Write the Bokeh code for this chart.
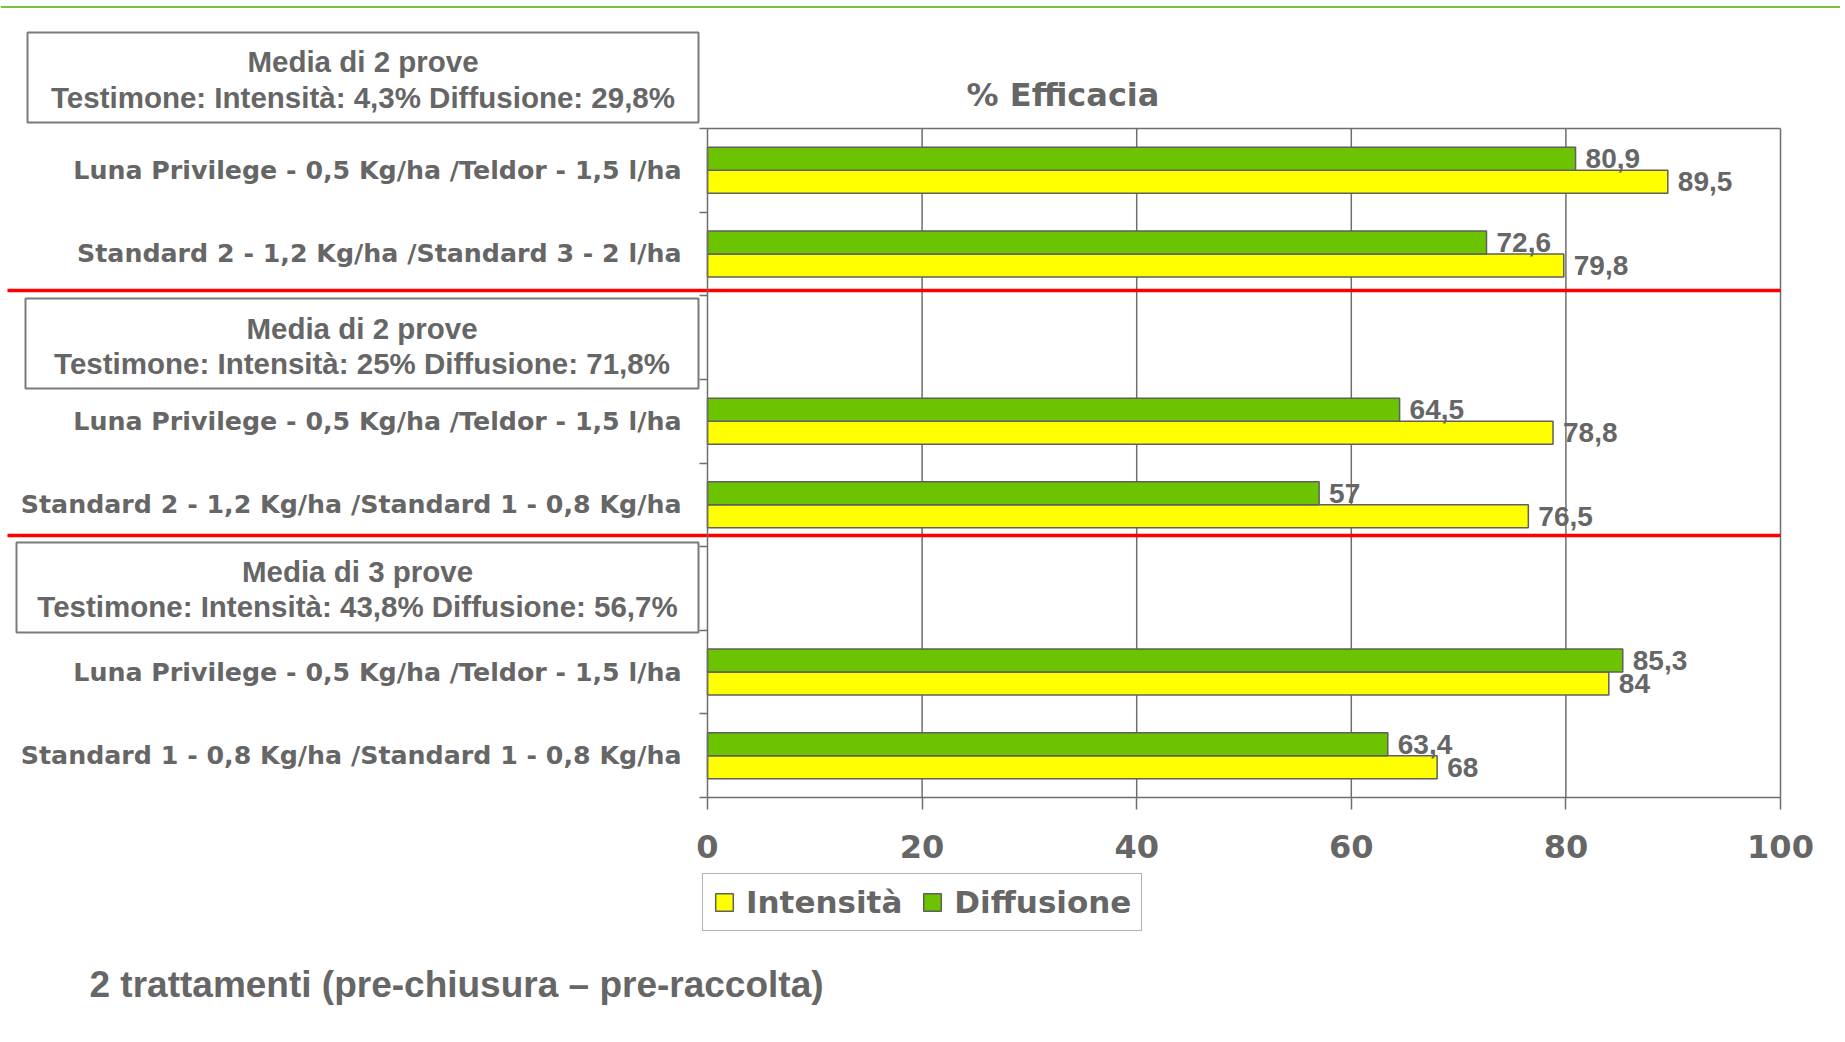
from bokeh.plotting import figure
from bokeh.models import Range1d, LinearAxis, FixedTicker, Legend, LegendItem, ColumnDataSource
from bokeh.core.properties import value
from bokeh.embed import file_html
from bokeh.resources import INLINE

# ---------------- data ----------------
categories = [
    "Luna Privilege - 0,5 Kg/ha /Teldor - 1,5 l/ha",
    "Standard 2 - 1,2 Kg/ha /Standard 3 - 2 l/ha",
    "",
    "Luna Privilege - 0,5 Kg/ha /Teldor - 1,5 l/ha",
    "Standard 2 - 1,2 Kg/ha /Standard 1 - 0,8 Kg/ha",
    "",
    "Luna Privilege - 0,5 Kg/ha /Teldor - 1,5 l/ha",
    "Standard 1 - 0,8 Kg/ha /Standard 1 - 0,8 Kg/ha",
]
intensita = [89.5, 79.8, None, 78.8, 76.5, None, 84, 68]
diffusione = [80.9, 72.6, None, 64.5, 57, None, 85.3, 63.4]
series_names = ["Intensità", "Diffusione"]
x_ticks = [0, 20, 40, 60, 80, 100]
header_titles = ["Media di 2 prove", "Media di 2 prove", "Media di 3 prove"]
header_details = [
    "Testimone: Intensità: 4,3% Diffusione: 29,8%",
    "Testimone: Intensità: 25% Diffusione: 71,8%",
    "Testimone: Intensità: 43,8% Diffusione: 56,7%",
]
chart_title = "% Efficacia"
footnote = "2 trattamenti (pre-chiusura – pre-raccolta)"

# ---------------- layout (pixels of the picture) ----------------
W, H = 1840, 1026
ORIG = 0
X0, X100 = 707, 1780
YT, YB = 128, 797
n = len(categories)
ppu = (X100 - X0) / 100.0
slot = (YB - YT) / float(n)


def dx(px):
    return (px - X0) / ppu


def dy(py):
    return (py - YT) / slot


GRAY = "#666666"
LINE_GRAY = "#6e6e6e"
YELLOW = "#FFFF00"
GREEN = "#6CC300"

p = figure(width=W, height=H,
           x_range=Range1d(dx(ORIG), dx(ORIG + W)),
           y_range=Range1d(dy(ORIG + H), dy(ORIG)),
           x_axis_type=None, y_axis_type=None,
           toolbar_location=None, output_backend="svg",
           min_border=0, outline_line_color=None)
p.background_fill_color = "white"
p.border_fill_color = "white"

# ---------------- grid lines and plot border ----------------
grid_x = [t for t in x_ticks if t > 0]
p.segment(x0=grid_x, y0=[0] * len(grid_x), x1=grid_x, y1=[n] * len(grid_x),
          line_color=LINE_GRAY, line_width=1.5)
p.segment(x0=[0], y0=[0], x1=[x_ticks[-1]], y1=[0], line_color=LINE_GRAY, line_width=1.5)

# ---------------- bars ----------------
BAR_H = 0.275
idx = [i for i, v in enumerate(intensita) if v is not None]
yc = [i + 0.5 for i in idx]


def fmt(v):
    return ("%g" % v).replace(".", ",")


src = ColumnDataSource(dict(
    yi=[c + BAR_H / 2 for c in yc],
    yd=[c - BAR_H / 2 for c in yc],
    vi=[intensita[i] for i in idx],
    vd=[diffusione[i] for i in idx],
    li=[fmt(intensita[i]) for i in idx],
    ld=[fmt(diffusione[i]) for i in idx],
))

ri = p.hbar(y="yi", left=0, right="vi", height=BAR_H, source=src,
            fill_color=YELLOW, line_color="#5f5f5f", line_width=1.5)
rd = p.hbar(y="yd", left=0, right="vd", height=BAR_H, source=src,
            fill_color=GREEN, line_color="#5f5f5f", line_width=1.5)

for col_y, col_v, col_l in (("yd", "vd", "ld"), ("yi", "vi", "li")):
    p.text(x=col_v, y=col_y, text=col_l, source=src, x_offset=10,
           text_align="left", text_baseline="middle",
           text_font=value("Liberation Sans"), text_font_style="bold",
           text_font_size="28px", text_color=GRAY)

# ---------------- axes ----------------
xaxis = LinearAxis(ticker=FixedTicker(ticks=x_ticks), fixed_location=n,
                   bounds=(x_ticks[0], x_ticks[-1]),
                   major_tick_out=12, major_tick_in=0,
                   minor_tick_out=0, minor_tick_in=0,
                   major_label_standoff=25,
                   axis_line_color=LINE_GRAY, axis_line_width=1.5,
                   major_tick_line_color=LINE_GRAY, major_tick_line_width=1.5,
                   major_label_text_font="DejaVu Sans",
                   major_label_text_font_style="bold",
                   major_label_text_font_size="32px",
                   major_label_text_color=GRAY)
p.add_layout(xaxis, "below")

yaxis = LinearAxis(ticker=FixedTicker(ticks=yc, minor_ticks=list(range(n + 1))),
                   fixed_location=0, bounds=(0, n),
                   major_tick_out=0, major_tick_in=0,
                   minor_tick_out=8, minor_tick_in=0,
                   major_label_standoff=18,
                   major_label_overrides={i + 0.5: categories[i] for i in idx},
                   axis_line_color=LINE_GRAY, axis_line_width=1.5,
                   minor_tick_line_color=LINE_GRAY, minor_tick_line_width=1.5,
                   major_label_text_font="DejaVu Sans",
                   major_label_text_font_style="bold",
                   major_label_text_font_size="25.3px",
                   major_label_text_color=GRAY)
p.add_layout(yaxis, "left")

# ---------------- header boxes ----------------
BOX_PX = [(27, 698, 32, 122), (25, 698, 298, 388), (16, 698, 542, 632)]
LINE1_PX = [60.5, 327.5, 571]
LINE2_PX = [96.5, 362.5, 606]
p.quad(left=[dx(b[0]) for b in BOX_PX], right=[dx(b[1]) for b in BOX_PX],
       top=[dy(b[2]) for b in BOX_PX], bottom=[dy(b[3]) for b in BOX_PX],
       fill_color="white", line_color="#7a7a7a", line_width=2)
cx = [dx((b[0] + b[1]) / 2.0) for b in BOX_PX]
p.text(x=cx + cx, y=[dy(v) for v in LINE1_PX] + [dy(v) for v in LINE2_PX],
       text=header_titles + header_details,
       text_align="center", text_baseline="middle",
       text_font=value("Liberation Sans"), text_font_style="bold",
       text_font_size="29.5px", text_color=GRAY)

# ---------------- separators ----------------
RED_Y_PX = [290, 535]
p.segment(x0=[dx(7)] * 2, x1=[x_ticks[-1]] * 2,
          y0=[dy(v) for v in RED_Y_PX], y1=[dy(v) for v in RED_Y_PX],
          line_color="#FF0000", line_width=3.5)
p.segment(x0=[dx(ORIG)], x1=[dx(ORIG + W)], y0=[dy(6.5)], y1=[dy(6.5)],
          line_color="#7CC242", line_width=2)

# ---------------- title and footnote ----------------
p.text(x=[dx(1062.5)], y=[dy(94)], text=[chart_title],
       text_align="center", text_baseline="middle",
       text_font=value("DejaVu Sans"), text_font_style="bold",
       text_font_size="32px", text_color=GRAY)
p.text(x=[dx(89)], y=[dy(983.5)], text=[footnote],
       text_align="left", text_baseline="middle",
       text_font=value("Liberation Sans"), text_font_style="bold",
       text_font_size="37px", text_color=GRAY)

# ---------------- legend ----------------
legend = Legend(items=[LegendItem(label=series_names[0], renderers=[ri]),
                       LegendItem(label=series_names[1], renderers=[rd])],
                orientation="horizontal", location=(702, 95),
                glyph_width=22, glyph_height=22, label_standoff=11,
                spacing=19, padding=10, margin=0,
                label_text_font="DejaVu Sans", label_text_font_style="bold",
                label_text_font_size="31px", label_text_color=GRAY,
                border_line_color="#666666", border_line_width=1.5,
                background_fill_color="white", background_fill_alpha=1)
p.add_layout(legend, "center")

open("out.html", "w").write(file_html(p, INLINE))
